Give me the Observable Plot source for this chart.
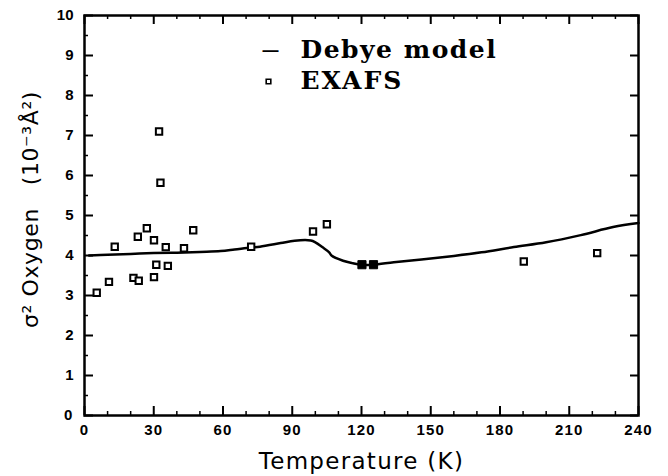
<!DOCTYPE html>
<html>
<head>
<meta charset="utf-8">
<script src="https://cdn.jsdelivr.net/npm/d3@7"></script>
<script src="https://cdn.jsdelivr.net/npm/@observablehq/plot@0.6"></script>
<style>
  html, body { margin: 0; padding: 0; background: #fff; }
</style>
</head>
<body>
<div id="chart"></div>
<script>
// Debye model curve (temperature K, sigma^2 in 10^-3 Å^2)
const debyeT = [2, 10, 20, 30, 40, 50, 59, 65, 72, 76, 85, 91, 98, 100, 103, 106, 107, 112, 116, 120, 125, 134, 146, 160, 172, 186, 200, 215, 229, 240];
const debyeS = [4.00, 4.02, 4.04, 4.06, 4.07, 4.09, 4.11, 4.15, 4.20, 4.22, 4.31, 4.37, 4.375, 4.33, 4.21, 4.08, 4.00, 3.87, 3.81, 3.77, 3.77, 3.83, 3.90, 3.99, 4.08, 4.21, 4.33, 4.51, 4.71, 4.81];

// EXAFS open squares
const exafsT = [5.3, 10.6, 13.1, 21.2, 23.5, 23.1, 27.0, 30.1, 30.1, 31.1, 36.1, 35.2, 32.3, 32.9, 43.1, 47.1, 72.2, 99.0, 105.0, 190.3, 222.1];
const exafsS = [3.07, 3.34, 4.22, 3.44, 3.37, 4.47, 4.68, 4.38, 3.46, 3.77, 3.74, 4.21, 7.10, 5.82, 4.18, 4.63, 4.22, 4.60, 4.78, 3.85, 4.06];

// EXAFS points drawn filled (on the curve)
const filledT = [120.2, 125.2];
const filledS = [3.77, 3.77];

// Tick values and labels
const xMajor = [0, 30, 60, 90, 120, 150, 180, 210, 240];
const xMinor = [10, 20, 40, 50, 70, 80, 100, 110, 130, 140, 160, 170, 190, 200, 220, 230];
const yMajor = [0, 1, 2, 3, 4, 5, 6, 7, 8, 9, 10];
const yMinor = [0.5, 1.5, 2.5, 3.5, 4.5, 5.5, 6.5, 7.5, 8.5, 9.5];
const xTitle = "Temperature (K)";
const yTitle = "σ² Oxygen   (10⁻³Å²)";
const legendLine = "Debye model";
const legendPts = "EXAFS";

const debye = debyeT.map((t, i) => ({T: t, s: debyeS[i]}));
const exafs = exafsT.map((t, i) => ({T: t, s: exafsS[i]}));
const filled = filledT.map((t, i) => ({T: t, s: filledS[i]}));

const W = 668, H = 476, ML = 84, MR = 30, MT = 15, MB = 61;
const IW = W - ML - MR, IH = H - MT - MB;
const xDom = [0, 240];
const yDom = [0, 10];
const pxToY = px => px * (yDom[1] - yDom[0]) / IH;   // tick length in y units
const pxToX = px => px * (xDom[1] - xDom[0]) / IW;   // tick length in x units
const tickFont = {fontFamily: "Liberation Sans, Arial, sans-serif", fontWeight: "bold", fontSize: 15, fill: "#000"};
const legendFont = {fontFamily: "DejaVu Serif, serif", fontSize: 25, fontWeight: "bold", fill: "#000", textAnchor: "start", lineAnchor: "middle"};
const titleFont = {fontFamily: "DejaVu Sans, sans-serif", fill: "#000", lineAnchor: "middle", textAnchor: "middle"};

const chart = Plot.plot({
  width: W,
  height: H,
  marginLeft: ML,
  marginRight: MR,
  marginTop: MT,
  marginBottom: MB,
  x: {domain: xDom, axis: null},
  y: {domain: yDom, axis: null},
  marks: [
    // inward ticks
    Plot.ruleX(xMajor, {x: d => d, y1: yDom[0], y2: yDom[0] + pxToY(9), stroke: "#000", strokeWidth: 2}),
    Plot.ruleX(xMinor, {x: d => d, y1: yDom[0], y2: yDom[0] + pxToY(4), stroke: "#000", strokeWidth: 1.5}),
    Plot.ruleX(xMajor, {x: d => d, y1: yDom[1], y2: yDom[1] - pxToY(9), stroke: "#000", strokeWidth: 2}),
    Plot.ruleX(xMinor, {x: d => d, y1: yDom[1], y2: yDom[1] - pxToY(4), stroke: "#000", strokeWidth: 1.5}),
    Plot.ruleY(yMajor, {y: d => d, x1: xDom[0], x2: xDom[0] + pxToX(9), stroke: "#000", strokeWidth: 2}),
    Plot.ruleY(yMinor, {y: d => d, x1: xDom[0], x2: xDom[0] + pxToX(4), stroke: "#000", strokeWidth: 1.5}),
    Plot.ruleY(yMajor, {y: d => d, x1: xDom[1], x2: xDom[1] - pxToX(8), stroke: "#000", strokeWidth: 2}),
    // tick labels (anchored on the axis lines through both scales)
    Plot.text(xMajor, {x: d => d, y: () => yDom[0], text: d => String(d), dy: 15, lineAnchor: "middle", textAnchor: "middle", ...tickFont}),
    Plot.text(yMajor, {x: () => xDom[0], y: d => d, text: d => String(d), dx: -11, lineAnchor: "middle", textAnchor: "end", ...tickFont}),
    Plot.frame({stroke: "#000", strokeWidth: 2.5}),
    // curve and points
    Plot.line(debye, {x: "T", y: "s", curve: "catmull-rom", stroke: "#000", strokeWidth: 2.5}),
    Plot.dot(exafs, {x: "T", y: "s", symbol: "square", r: 3.6, stroke: "#000", strokeWidth: 2, fill: "#fff"}),
    Plot.dot(filled, {x: "T", y: "s", symbol: "square", r: 4.6, stroke: "#000", strokeWidth: 1, fill: "#000"}),
    // axis titles
    Plot.text([xTitle], {text: d => d, frameAnchor: "bottom", dy: 46, fontSize: 23, ...titleFont}),
    Plot.text([yTitle], {text: d => d, frameAnchor: "left", dx: -54, dy: -6, rotate: -90, fontSize: 22, ...titleFont}),
    // legend
    Plot.text(["—"], {text: d => d, frameAnchor: "top-left", dx: 178, dy: 35, textAnchor: "start", lineAnchor: "middle", fontFamily: "Liberation Sans, sans-serif", fontSize: 16, fontWeight: "bold", fill: "#000"}),
    Plot.text([legendLine], {text: d => d, frameAnchor: "top-left", dx: 216, dy: 34, ...legendFont}),
    Plot.dot([legendPts], {frameAnchor: "top-left", dx: 184, dy: 66, symbol: "square", r: 2.6, stroke: "#000", strokeWidth: 1.6, fill: "#fff"}),
    Plot.text([legendPts], {text: d => d, frameAnchor: "top-left", dx: 216, dy: 65, ...legendFont})
  ]
});
// letter spacing for the wide typefaces of the original
const spacing = {[xTitle]: "1.3px", [yTitle]: "0.6px", [legendLine]: "1.5px", [legendPts]: "2px"};
xMajor.forEach(v => spacing[String(v)] = "1.2px");
chart.querySelectorAll("text").forEach(t => {
  const s = spacing[t.textContent];
  if (s) t.style.letterSpacing = s;
});
document.getElementById("chart").appendChild(chart);
</script>
</body>
</html>
